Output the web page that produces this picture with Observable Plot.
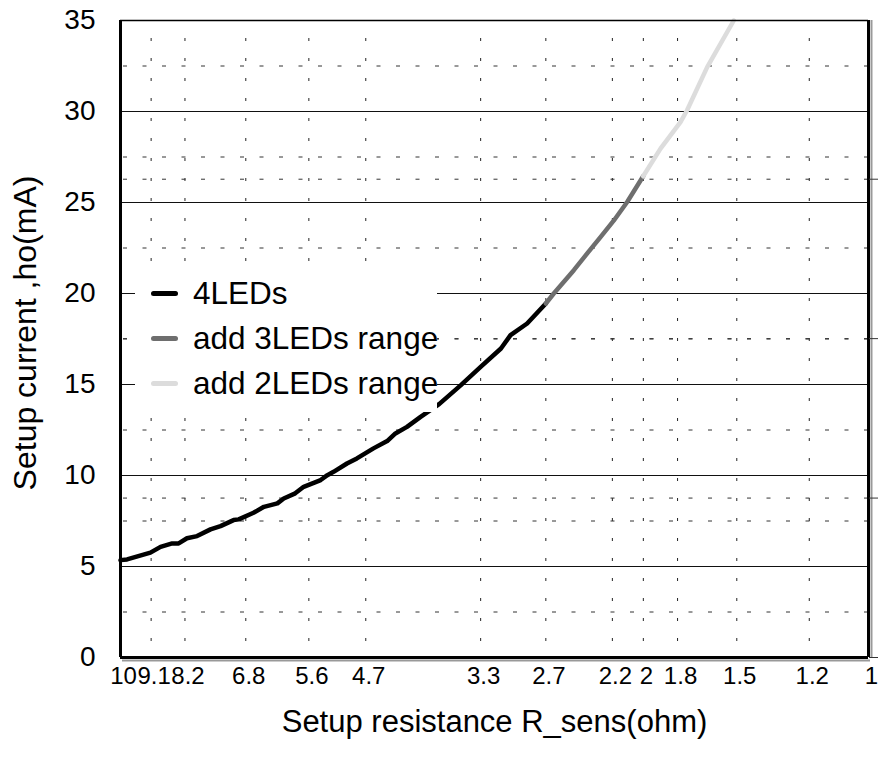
<!DOCTYPE html>
<html>
<head>
<meta charset="utf-8">
<script src="https://cdn.jsdelivr.net/npm/d3@7"></script>
<script src="https://cdn.jsdelivr.net/npm/@observablehq/plot@0.6"></script>
<style>
  html, body { margin: 0; padding: 0; background: #fff; }
  #wrap { position: relative; width: 878px; height: 769px; font-family: "Liberation Sans", Arial, sans-serif; }
  #legend { position: absolute; left: 135px; top: 272px; width: 302px; height: 140px; background: #fff; }
  .row { position: absolute; left: 0; height: 40px; display: flex; align-items: center; font-size: 31.5px; color: #000; white-space: nowrap; }
  .sw { display: inline-block; width: 27px; height: 5px; border-radius: 3px; margin-left: 16px; margin-right: 15px; }
</style>
</head>
<body>
<div id="wrap"></div>
<script>
// ---- data ----
const seriesNames = ["4LEDs", "add 3LEDs range", "add 2LEDs range"];
const seriesColors = ["#000000", "#6e6e6e", "#dcdcdc"];

const r4LEDs = [10, 9.80, 9.12, 8.84, 8.53, 8.36, 8.15, 7.90, 7.58, 7.35, 7.06, 6.95, 6.64, 6.43, 6.17, 6.05, 5.84, 5.69, 5.40, 5.29, 5.19, 4.98, 4.83, 4.59, 4.40, 4.29, 4.14, 3.97, 3.75, 3.51, 3.30, 3.10, 3.01, 2.86, 2.70];
const i4LEDs = [5.35, 5.39, 5.76, 6.08, 6.27, 6.27, 6.55, 6.67, 7.04, 7.22, 7.55, 7.59, 7.95, 8.28, 8.47, 8.74, 9.02, 9.38, 9.75, 10.02, 10.2, 10.66, 10.94, 11.49, 11.89, 12.31, 12.67, 13.22, 13.92, 14.95, 15.97, 16.98, 17.71, 18.35, 19.45];

const r3LEDs = [2.70, 2.635, 2.477, 2.377, 2.282, 2.191, 2.102, 2.001];
const i3LEDs = [19.45, 20.0, 21.28, 22.2, 23.1, 24.0, 25.03, 26.44];

const r2LEDs = [2.001, 1.897, 1.784, 1.748, 1.643, 1.514];
const i2LEDs = [26.44, 27.96, 29.42, 30.07, 32.44, 35.0];

const xTicks = [10, 9.1, 8.2, 6.8, 5.6, 4.7, 3.3, 2.7, 2.2, 2, 1.8, 1.5, 1.2, 1];
const yTicks = [0, 5, 10, 15, 20, 25, 30, 35];
const yMinor = [2.5, 7.5, 12.5, 17.5, 22.5, 27.5, 32.5];
const yAux = [8.76, 17.52, 26.28];
const yAuxTicks = [0, 8.76, 17.52, 26.28];

const xTitle = "Setup resistance R_sens(ohm)";
const yTitle = "Setup current ,ho(mA)";

// ---- build ----
const zip = (rs, is) => rs.map((r, k) => ({r, i: is[k]}));
const d4 = zip(r4LEDs, i4LEDs), d3 = zip(r3LEDs, i3LEDs), d2 = zip(r2LEDs, i2LEDs);
const xGrid = xTicks.slice(1, -1);
const ySolid = yTicks.slice(1, -1);
const font = "'Liberation Sans', Arial, sans-serif";

const chart = Plot.plot({
  width: 878,
  height: 769,
  marginLeft: 120,
  marginRight: 10,
  marginTop: 20,
  marginBottom: 112,
  x: {type: "log", domain: [10, 1]},
  y: {domain: [0, 35]},
  style: {fontFamily: font, background: "#fff", color: "#000", overflow: "visible"},
  marks: [
    Plot.ruleX(xGrid, {stroke: "#222", strokeWidth: 1, strokeDasharray: "3,17", strokeDashoffset: -18}),
    Plot.ruleY(yMinor, {stroke: "#333", strokeWidth: 1, strokeDasharray: "4,15.5", strokeDashoffset: -3}),
    Plot.ruleY(yAux, {stroke: "#333", strokeWidth: 1, strokeDasharray: "4,15.5", strokeDashoffset: -3}),
    Plot.ruleY(ySolid, {stroke: "#111", strokeWidth: 1}),
    Plot.line(d4, {x: "r", y: "i", stroke: seriesColors[0], strokeWidth: 4.5, strokeLinejoin: "round"}),
    Plot.line(d3, {x: "r", y: "i", stroke: seriesColors[1], strokeWidth: 4.5, strokeLinejoin: "round"}),
    Plot.line(d2, {x: "r", y: "i", stroke: seriesColors[2], strokeWidth: 4.5, strokeLinejoin: "round"}),
    // frame
    Plot.ruleY([35], {stroke: "#000", strokeWidth: 1.5}),
    Plot.ruleY([0], {stroke: "#999", strokeWidth: 2, dy: 3, dx: 2}),
    Plot.ruleX([1], {stroke: "#999", strokeWidth: 2, dx: 3}),
    Plot.ruleY([0], {stroke: "#000", strokeWidth: 3}),
    Plot.ruleX([10], {stroke: "#000", strokeWidth: 3}),
    Plot.ruleX([1], {stroke: "#000", strokeWidth: 3}),
    // axes
    Plot.axisY({ticks: yTicks, tickSize: 0, tickPadding: 25, fontSize: 28, label: null, tickFormat: d => String(d)}),
    Plot.axisY({anchor: "right", ticks: yAuxTicks, tickSize: 10, tickFormat: () => "", label: null, stroke: "#333"}),
    Plot.axisX({ticks: xTicks, tickSize: 0, tickPadding: 9, fontSize: 24, label: null, tickFormat: d => String(d), dx: 3}),
    Plot.text([xTitle], {text: d => d, frameAnchor: "bottom", dy: 74, fontSize: 31, fill: "#000"}),
    Plot.text([yTitle], {text: d => d, frameAnchor: "left", textAnchor: "middle", dx: -95, dy: -6, rotate: -90, fontSize: 32, fill: "#000"})
  ]
});

const wrap = document.getElementById("wrap");
wrap.appendChild(chart);

const legend = document.createElement("div");
legend.id = "legend";
seriesNames.forEach((name, k) => {
  const row = document.createElement("div");
  row.className = "row";
  row.style.top = (1 + k * 45) + "px";
  const sw = document.createElement("span");
  sw.className = "sw";
  sw.style.background = seriesColors[k];
  const tx = document.createElement("span");
  tx.textContent = name;
  row.appendChild(sw);
  row.appendChild(tx);
  legend.appendChild(row);
});
wrap.appendChild(legend);
</script>
</body>
</html>
